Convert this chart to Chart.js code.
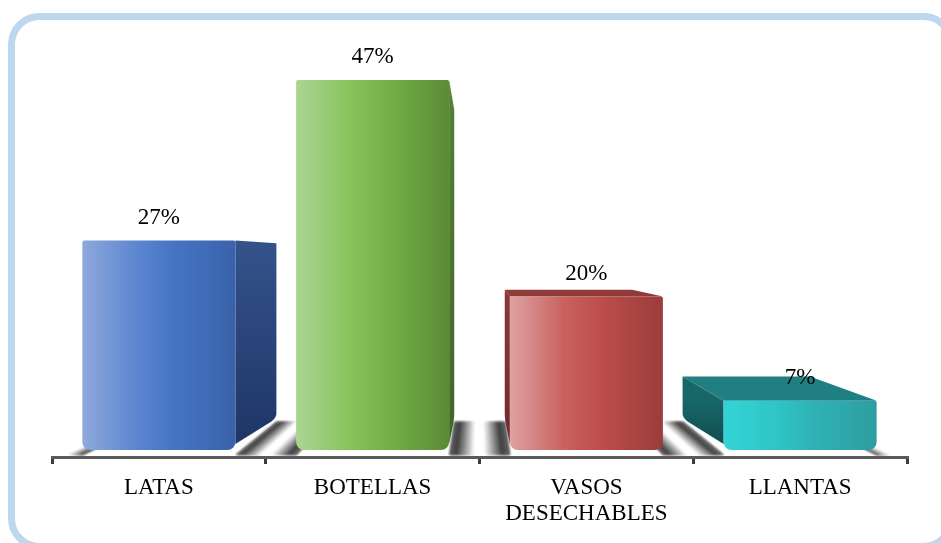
<!DOCTYPE html>
<html>
<head>
<meta charset="utf-8">
<script src="https://cdn.jsdelivr.net/npm/chart.js@4.4.0/dist/chart.umd.min.js"></script>
<style>
  html, body { margin: 0; padding: 0; background: #fff; }
  #wrap { width: 941px; height: 543px; }
</style>
</head>
<body>
<div id="wrap"><canvas id="residuosChart" width="941" height="543"></canvas></div>
<script>
// Residuos reciclables
const categorias = ['LATAS', 'BOTELLAS', ['VASOS', 'DESECHABLES'], 'LLANTAS'];
const porcentajes = [27, 47, 20, 7];

// colores de cada barra: frente (degradado), lado y techo
const caras = [
    { frente: ['#8ea9dc', '#5c86d0', '#4674c4', '#3a62aa'], lado: ['#34538b', '#1e3565'], techo: '#3a5f9e' },
    { frente: ['#abd593', '#88c35c', '#74b046', '#5a8b36'], lado: ['#548232', '#3f6625'], techo: '#6a9e42' },
    { frente: ['#dea2a2', '#c9625f', '#bc4d4a', '#9a3d3b'], lado: ['#8a3736', '#6e2a29'], techo: '#8e3b39' },
    { frente: ['#33d4d6', '#2ec5c7', '#2fb1b4', '#2e9da1'], lado: ['#176668', '#0f4b4d'], techo: '#1f7f81' }
];

const fondo = 0.168;   // profundidad de la perspectiva
const serif = '"Liberation Serif", "Times New Roman", serif';

function proyectar(vp, x, y) {
    return [vp.x + (x - vp.x) * (1 - fondo), vp.y + (y - vp.y) * (1 - fondo)];
}

function gris(stops, t) {
    for (let i = 1; i < stops.length; i++) {
        if (t <= stops[i][0]) {
            const a = stops[i - 1], b = stops[i];
            const v = Math.round(a[1] + (b[1] - a[1]) * (t - a[0]) / (b[0] - a[0]));
            return 'rgb(' + v + ',' + v + ',' + v + ')';
        }
    }
    const v = stops[stops.length - 1][1];
    return 'rgb(' + v + ',' + v + ',' + v + ')';
}

// franja del piso entre x0 y x1, hecha de tiras que fugan al punto vp
function franja(ctx, vp, x0, x1, y, stops) {
    const n = 60;
    for (let i = 0; i < n; i++) {
        const a = x0 + (x1 - x0) * i / n;
        const b = x0 + (x1 - x0) * (i + 1) / n;
        const pa = proyectar(vp, a, y), pb = proyectar(vp, b, y);
        ctx.fillStyle = gris(stops, (i + 0.5) / n);
        ctx.beginPath();
        ctx.moveTo(a, y);
        ctx.lineTo(b + 0.5, y);
        ctx.lineTo(pb[0] + 0.5, pb[1]);
        ctx.lineTo(pa[0], pa[1]);
        ctx.closePath();
        ctx.fill();
    }
}

const perfilHueco = [[0, 70], [0.12, 30], [0.3, 160], [0.42, 255], [0.58, 255], [0.72, 150], [0.88, 30], [1, 70]];
const perfilIzq = [[0, 255], [0.5, 255], [0.85, 110], [1, 45]];
const perfilDer = [[0, 45], [0.15, 110], [0.5, 255], [1, 255]];

function puntoFuga(chart) {
    const a = chart.chartArea;
    return { x: (a.left + a.right) / 2, y: chart.scales.y.getPixelForValue(25) };
}

const marco = {
    id: 'marco',
    afterDraw(chart) {
        const ctx = chart.ctx;
        ctx.save();
        ctx.strokeStyle = '#bdd7ee';
        ctx.lineWidth = 7;
        ctx.beginPath();
        ctx.roundRect(11.5, 16.5, 940, 530, 28);
        ctx.stroke();
        ctx.restore();
    }
};

const barras3d = {
    id: 'barras3d',
    beforeDatasetsDraw(chart) {
        const ctx = chart.ctx;
        const vp = puntoFuga(chart);
        const els = chart.getDatasetMeta(0).data;
        const piso = chart.chartArea.bottom - 2;
        ctx.save();
        ctx.filter = 'blur(1px)';
        franja(ctx, vp, chart.chartArea.left, els[0].x - els[0].width / 2, piso, perfilIzq);
        for (let i = 0; i < els.length - 1; i++) {
            franja(ctx, vp, els[i].x + els[i].width / 2, els[i + 1].x - els[i + 1].width / 2, piso, perfilHueco);
        }
        const u = els[els.length - 1];
        franja(ctx, vp, u.x + u.width / 2, chart.chartArea.right, piso, perfilDer);
        ctx.restore();
    },
    afterDatasetsDraw(chart) {
        const ctx = chart.ctx;
        const vp = puntoFuga(chart);
        const els = chart.getDatasetMeta(0).data;
        els.forEach((el, i) => {
            const c = caras[i];
            const izq = el.x - el.width / 2, der = el.x + el.width / 2;
            const arriba = el.y, abajo = el.base - 7;
            ctx.save();

            // lado visible (hacia el punto de fuga)
            const xl = el.x < vp.x ? der : izq;
            const p1 = proyectar(vp, xl, arriba), p2 = proyectar(vp, xl, abajo);
            let g = ctx.createLinearGradient(0, arriba, 0, abajo);
            g.addColorStop(0, c.lado[0]);
            g.addColorStop(1, c.lado[1]);
            ctx.fillStyle = g;
            ctx.beginPath();
            ctx.moveTo(xl, arriba);
            ctx.lineTo(p1[0], p1[1]);
            ctx.lineTo(p2[0], p2[1] - 4);
            ctx.quadraticCurveTo(p2[0], p2[1], p2[0] + (xl - p2[0]) * 0.12, p2[1] + (abajo - p2[1]) * 0.12);
            ctx.lineTo(xl, abajo - 6);
            ctx.closePath();
            ctx.fill();

            // techo, solo si queda debajo del horizonte
            if (arriba > vp.y) {
                const t1 = proyectar(vp, izq, arriba), t2 = proyectar(vp, der, arriba);
                ctx.fillStyle = c.techo;
                ctx.beginPath();
                ctx.moveTo(izq, arriba);
                ctx.lineTo(der, arriba);
                ctx.lineTo(t2[0], t2[1]);
                ctx.lineTo(t1[0], t1[1]);
                ctx.closePath();
                ctx.fill();
            }

            // cara frontal
            g = ctx.createLinearGradient(izq, 0, der, 0);
            g.addColorStop(0, c.frente[0]);
            g.addColorStop(0.35, c.frente[1]);
            g.addColorStop(0.6, c.frente[2]);
            g.addColorStop(1, c.frente[3]);
            ctx.fillStyle = g;
            ctx.beginPath();
            ctx.roundRect(izq, arriba, der - izq, abajo - arriba, [2, 2, 8, 8]);
            ctx.fill();
            ctx.restore();
        });

        // etiquetas de porcentaje
        ctx.save();
        ctx.fillStyle = '#000';
        ctx.font = '23px ' + serif;
        ctx.textAlign = 'center';
        ctx.textBaseline = 'middle';
        els.forEach((el, i) => {
            ctx.fillText(porcentajes[i] + '%', el.x, el.y - 23);
        });
        ctx.restore();
    }
};

const ctx1 = document.getElementById('residuosChart').getContext('2d');
const residuosChart = new Chart(ctx1, {
    type: 'bar',
    data: {
        labels: categorias,
        datasets: [{
            label: 'Porcentaje',
            data: porcentajes,
            backgroundColor: 'rgba(0,0,0,0)',
            barPercentage: 0.716,
            categoryPercentage: 1
        }]
    },
    options: {
        responsive: false,
        animation: false,
        layout: { padding: { top: 56, left: 52, right: 34, bottom: 0 } },
        plugins: {
            legend: { display: false },
            tooltip: { enabled: false }
        },
        scales: {
            x: {
                grid: { offset: true, drawOnChartArea: false, tickLength: 7, lineWidth: 3, color: '#3b3b3b' },
                border: { display: true, color: '#5a5a5a', width: 3, z: 1 },
                ticks: {
                    color: '#000',
                    font: { family: serif, size: 23, lineHeight: 1.17 },
                    padding: 10,
                    maxRotation: 0,
                    autoSkip: false
                },
                afterFit: (s) => { s.height = 86; }
            },
            y: { display: false, min: 0, max: 50 }
        }
    },
    plugins: [barras3d, marco]
});
</script>
</body>
</html>
